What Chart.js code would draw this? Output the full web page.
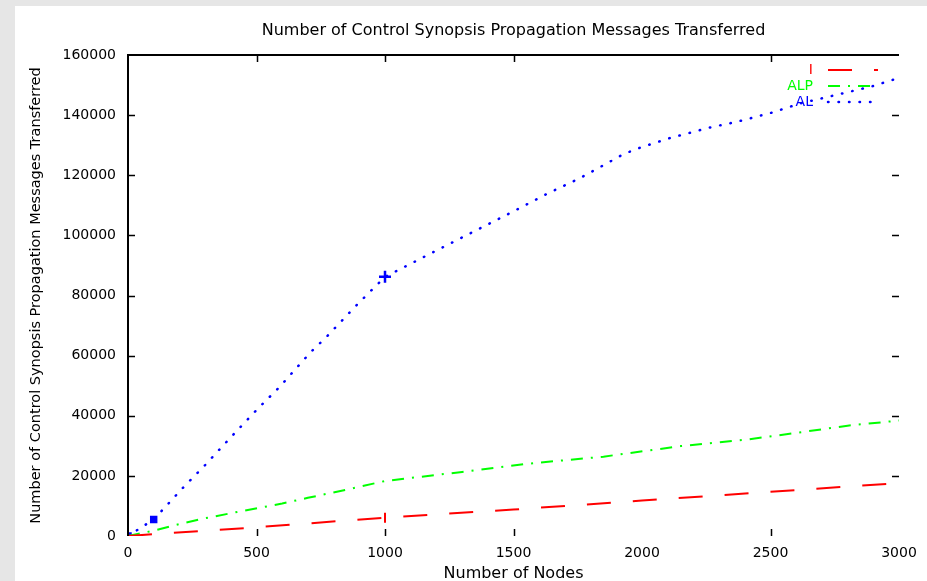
<!DOCTYPE html>
<html>
<head>
<meta charset="utf-8">
<script src="https://cdn.jsdelivr.net/npm/chart.js@4/dist/chart.umd.min.js"></script>
<style>
  html, body { margin: 0; padding: 0; background: #e6e6e6; }
  #myChart { display: block; }
</style>
</head>
<body>
<canvas id="myChart" width="927" height="581"></canvas>
<script>
// number of nodes vs. messages transferred, one list per curve
var redNodes = [0, 100, 500, 1000, 1500, 2000, 2500, 3000];
var redMsgs = [0, 600, 2900, 6100, 8800, 11800, 14700, 17600];

var greenNodes = [0, 100, 200, 300, 450, 600, 700, 850, 1000, 1100, 1300, 1550, 1850, 2150, 2400, 2600, 2800, 3000];
var greenMsgs = [0, 1800, 4000, 5900, 8400, 10800, 12700, 15400, 18300, 19300, 21300, 24000, 26400, 29900, 32000, 34300, 36700, 38400];

var blueNodes = [0, 100, 220, 300, 416, 500, 590, 708, 780, 894, 1000, 1160, 1500, 1630, 1760, 1930, 2000, 2110, 2260, 2370, 2500, 2620, 2760, 2900, 3000];
var blueMsgs = [0, 5500, 16600, 23600, 34300, 41900, 49600, 60900, 66900, 77200, 86200, 93200, 108000, 113800, 119100, 127100, 129400, 132400, 135800, 137800, 140700, 144000, 146800, 149700, 152400];

var seriesNames = ["I", "ALP", "AL"];
var xTickMarks = [500, 1000, 1500, 2500];
var yTickMarks = [20000, 40000, 60000, 80000, 100000, 120000, 140000];

var chartTitle = "Number of Control Synopsis Propagation Messages Transferred";
var xTitle = "Number of Nodes";
var yTitle = "Number of Control Synopsis Propagation Messages Transferred";

var FONT = "DejaVu Sans";

function pairs(xs, ys) {
  return xs.map(function (x, i) { return { x: x, y: ys[i] }; });
}

// gnuplot-ish frame: grey page, white panel, left + top border, inward ticks, titles, key
var framePlugin = {
  id: "frame",
  beforeDraw: function (chart) {
    var c = chart.ctx;
    c.save();
    c.fillStyle = "#e6e6e6";
    c.fillRect(0, 0, chart.width, chart.height);
    c.fillStyle = "#ffffff";
    c.fillRect(15, 6, chart.width - 15, chart.height - 6);
    c.restore();
  },
  afterDatasetsDraw: function (chart) {
    var c = chart.ctx;
    var a = chart.chartArea;
    var xs = chart.scales.x, ys = chart.scales.y;
    c.save();
    c.strokeStyle = "#000";
    c.lineWidth = 2;
    c.beginPath();
    c.moveTo(a.left, a.bottom);
    c.lineTo(a.left, a.top);
    c.lineTo(a.right, a.top);
    c.stroke();

    c.lineWidth = 1.5;
    c.beginPath();
    xTickMarks.forEach(function (v) {
      var px = Math.round(xs.getPixelForValue(v)) + 0.5;
      c.moveTo(px, a.bottom); c.lineTo(px, a.bottom - 7);
      c.moveTo(px, a.top); c.lineTo(px, a.top + 7);
    });
    yTickMarks.forEach(function (v) {
      var py = Math.round(ys.getPixelForValue(v)) + 0.5;
      c.moveTo(a.left, py); c.lineTo(a.left + 7, py);
      c.moveTo(a.right, py); c.lineTo(a.right - 7, py);
    });
    c.stroke();

    // titles
    c.fillStyle = "#000";
    c.textAlign = "center";
    c.textBaseline = "middle";
    c.font = "16px '" + FONT + "'";
    c.fillText(chartTitle, (a.left + a.right) / 2, 31);
    c.fillText(xTitle, (a.left + a.right) / 2, 574);
    c.save();
    c.translate(36, (a.top + a.bottom) / 2);
    c.rotate(-Math.PI / 2);
    c.font = "14.5px '" + FONT + "'";
    c.fillText(yTitle, 0, 0);
    c.restore();

    // key, top right
    var rows = [70, 86, 102];
    c.font = "14px '" + FONT + "'";
    c.textAlign = "right";
    chart.data.datasets.forEach(function (ds, i) {
      var y = rows[i];
      c.fillStyle = ds.borderColor;
      c.fillText(seriesNames[i], 813, y);
      c.strokeStyle = ds.borderColor;
      c.lineWidth = ds.borderWidth;
      c.lineCap = ds.borderCapStyle || "butt";
      c.setLineDash(ds.borderDash || []);
      c.beginPath();
      c.moveTo(828, y);
      c.lineTo(878, y);
      c.stroke();
      c.setLineDash([]);
    });
    c.restore();
  }
};

var ctx = document.getElementById("myChart").getContext("2d");
var myChart = new Chart(ctx, {
  type: "scatter",
  data: {
    datasets: [
      {
        label: seriesNames[0],
        data: pairs(redNodes, redMsgs),
        showLine: true,
        borderColor: "#ff0000",
        backgroundColor: "#ff0000",
        borderWidth: 2,
        borderDash: [24, 22],
        pointStyle: "line",
        rotation: 90,
        pointRadius: function (c) { return c.raw && c.raw.x === 1000 ? 5 : 0; },
        pointBorderWidth: 2
      },
      {
        label: seriesNames[1],
        data: pairs(greenNodes, greenMsgs),
        showLine: true,
        borderColor: "#00ff00",
        backgroundColor: "#00ff00",
        borderWidth: 2,
        borderDash: [12, 8, 2, 8],
        pointRadius: 0
      },
      {
        label: seriesNames[2],
        data: pairs(blueNodes, blueMsgs),
        showLine: true,
        borderColor: "#0000ff",
        backgroundColor: "#0000ff",
        borderWidth: 2.5,
        borderDash: [0.5, 10],
        borderCapStyle: "round",
        pointStyle: function (c) { return c.raw && c.raw.x === 1000 ? "cross" : "rect"; },
        pointRadius: function (c) {
          if (!c.raw) return 0;
          if (c.raw.x === 1000) return 6;
          if (c.raw.x === 0 || c.raw.x === 100) return 3.5;
          return 0;
        },
        pointBorderWidth: 2.5
      }
    ]
  },
  options: {
    responsive: false,
    animation: false,
    layout: { padding: { top: 55, right: 28, bottom: 0, left: 0 } },
    plugins: {
      legend: { display: false },
      title: { display: false },
      tooltip: { enabled: false }
    },
    scales: {
      x: {
        type: "linear",
        min: 0,
        max: 3000,
        grid: { display: false, drawTicks: false },
        border: { display: false },
        ticks: {
          stepSize: 500,
          padding: 9,
          color: "#000",
          maxRotation: 0,
          font: { family: FONT, size: 14 },
          callback: function (v) { return String(v); }
        },
        afterFit: function (scale) { scale.height = 45; }
      },
      y: {
        type: "linear",
        min: 0,
        max: 160000,
        grid: { display: false, drawTicks: false },
        border: { display: false },
        ticks: {
          stepSize: 20000,
          padding: 12,
          color: "#000",
          font: { family: FONT, size: 14 },
          callback: function (v) { return String(v); }
        },
        afterFit: function (scale) { scale.width = 128; }
      }
    }
  },
  plugins: [framePlugin]
});
</script>
</body>
</html>
